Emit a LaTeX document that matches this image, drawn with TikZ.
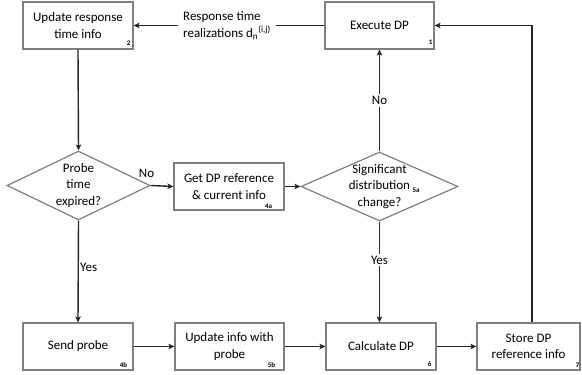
\documentclass[tikz,border=0pt]{standalone}
\usepackage{fontspec}
\setmainfont{Carlito}
\usetikzlibrary{arrows.meta,shapes.geometric}
\definecolor{boxgray}{HTML}{7F7F7F}
\definecolor{linecol}{HTML}{262626}
\begin{document}
\begin{tikzpicture}[x=1pt,y=-1pt,
  box/.style={draw=boxgray, line width=1.2pt, minimum width=110pt, minimum height=47pt, inner sep=0pt, align=center, font=\fontsize{13}{16.5}\selectfont},
  dia/.style={draw=boxgray, line width=1.2pt, shape=diamond, minimum width=#1, minimum height=69pt, inner sep=0pt},
  txt/.style={align=center, font=\fontsize{13}{16.5}\selectfont, inner sep=0pt},
  num/.style={font=\fontsize{7}{7}\selectfont\bfseries, inner sep=0pt},
  conn/.style={draw=linecol, line width=1.4pt, -{Stealth[length=6pt,width=5.5pt,inset=1.5pt]}},
  plain/.style={draw=linecol, line width=1.4pt},
  lab/.style={font=\fontsize{13}{16.5}\selectfont, fill=white, inner sep=2pt}
]
\useasboundingbox[fill=white] (0,0) rectangle (582,375);

% boxes
\node[box] (upd) at (78,25.5) {Update response\\time info};
\node[box, minimum width=109pt] (exe) at (379.5,25.5) {Execute DP};
\node[box, minimum width=110pt] (get) at (229,186.5) {Get DP reference\\\& current info};
\node[box] (send) at (78,346.5) {Send probe};
\node[box, minimum width=109pt] (updp) at (229.5,346.5) {Update info with\\probe};
\node[box] (calc) at (381,346.5) {Calculate DP};
\node[box, minimum width=103pt] (store) at (528.5,346.5) {Store DP\\reference info};

% diamonds
\node[dia=143pt] (d1) at (78.5,185.5) {};
\node[txt] (d1t) at (d1.center) {Probe\\time\\expired?};
\node[dia=157pt] (d2) at (379.5,186.5) {};
\node[txt] (d2t) at (d2.center) {Significant\\distribution\\change?};

% numbers
\node[num] (n1) at ([shift={(-4,-7)}]exe.south east) {1};
\node[num] (n2) at ([shift={(-5,-6)}]upd.south east) {2};
\node[num] (n4a) at ([shift={(-16,-4)}]get.south east) {4a};
\node[num] (n5a) at (416,190) {5a};
\node[num] (n4b) at ([shift={(-10,-6)}]send.south east) {4b};
\node[num] (n5b) at ([shift={(-13,-6)}]updp.south east) {5b};
\node[num] (n6) at ([shift={(-7,-6)}]calc.south east) {6};
\node[num] (n7) at ([shift={(-3,-5)}]store.south east) {7};

% connectors
\node[lab, inner xsep=5pt, align=left] (resp) at (227,25.5) {Response time\\realizations d\textsubscript{n}\textsuperscript{(i,j)}};
\draw[plain] (exe.west) -- (resp.east);
\draw[conn] (resp.west) -- (upd.east);

\draw[conn] (upd.south) -- (d1.north);
\draw[conn] (d1.east) -- (get.west);
\node[font=\fontsize{13}{15}\selectfont, inner sep=0pt] (no1) at ([shift={(-4,-12)}]d1.east) {No};
\draw[conn] (get.east) -- (d2.west);

\draw[conn] (d2.north) -- node[lab] (no2) {No} (exe.south);
\draw[conn] (d2.south) -- node[lab, pos=0.38] (yes2) {Yes} (d2.south |- calc.north);

\draw[conn] (d1.south) -- (send.north);
\node[font=\fontsize{13}{15}\selectfont, inner sep=0pt, anchor=west] (yes1) at (80,267) {Yes};

\draw[conn] (send.east) -- (updp.west);
\draw[conn] (updp.east) -- (calc.west);
\draw[conn] (calc.east) -- (store.west);

\coordinate (corner) at (532,25.5);
\draw[conn] (store.north -| corner) -- (corner) -- (exe.east);
\end{tikzpicture}
\end{document}
